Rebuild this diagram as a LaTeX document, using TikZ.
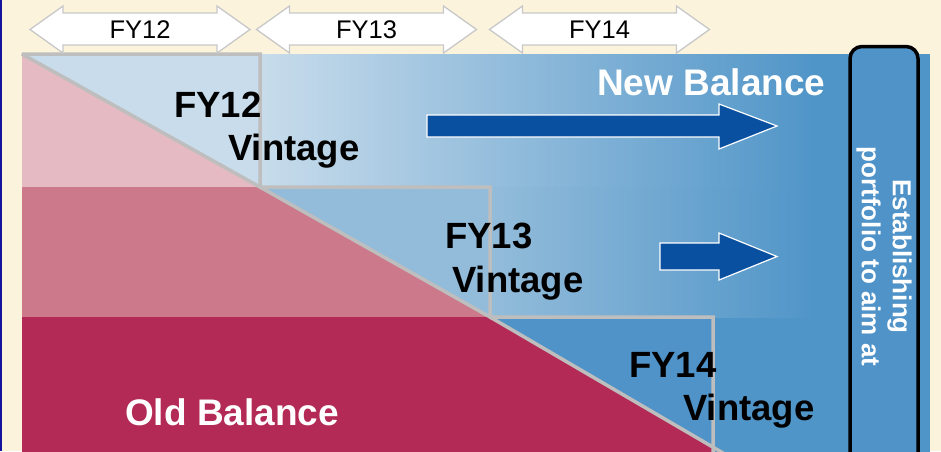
\documentclass[tikz,border=0pt]{standalone}
\usepackage{fontspec}
\setmainfont{Liberation Sans}
\definecolor{creambg}{HTML}{FCF3DC}
\definecolor{edgeblue}{HTML}{1414A0}
\definecolor{newfill}{HTML}{5095C8}
\definecolor{fy12fill}{HTML}{C8DCEB}
\definecolor{fy13fill}{HTML}{93BCDA}
\definecolor{fy14fill}{HTML}{4F93C8}
\definecolor{oldlight}{HTML}{E5BAC2}
\definecolor{oldmid}{HTML}{CC7A8B}
\definecolor{olddark}{HTML}{B32A56}
\definecolor{lineclr}{HTML}{BEBEBE}
\definecolor{headclr}{HTML}{C8C8C8}
\definecolor{pushclr}{HTML}{0A50A0}
\tikzset{
  yearhead/.style = {draw=headclr, fill=white, line width=1.3pt},
  yearlbl/.style  = {inner sep=0pt, font=\fontsize{25.5}{28}\selectfont},
  push/.style     = {draw=white, fill=pushclr, line width=1.2pt},
  vintage/.style  = {anchor=base west, inner sep=0pt, font=\fontsize{36.5}{40}\selectfont\bfseries},
  balance/.style  = {vintage, text=white, font=\fontsize{37}{40}\selectfont\bfseries},
  vbox/.style     = {draw=lineclr, line width=3.5pt, miter limit=3},
  aimbox/.style   = {draw=black, line width=3.5pt, rounded corners=12pt, fill=fy14fill,
                     text=white, align=center, inner sep=0pt,
                     font=\fontsize{26}{31}\selectfont\bfseries},
}

\begin{document}
\begin{tikzpicture}[x=1pt, y=-1pt]

\useasboundingbox (0,0) rectangle (941,451);
\clip (0,0) rectangle (941,451);

%% background
\fill[creambg] (0,0) rectangle (941,451);
\fill[edgeblue] (0,0) rectangle (2,451);

%% new balance area
\fill[newfill] (22,54) rectangle (930,470);
\shade[left color=fy12fill, right color=newfill] (260,54) rectangle (815,187);
\shade[left color=fy13fill, right color=newfill] (490,187) rectangle (815,317);

%% step corners on the diagonal
\coordinate (c0) at (22,54);
\coordinate (c1) at (260,187);
\coordinate (c2) at (490,317);
\coordinate (c3) at (735,460);

%% old balance bands
\fill[oldlight] (c0) -- (c1) -- (22,187) -- cycle;
\fill[oldmid] (22,187) -- (c1) -- (c2) -- (22,317) -- cycle;
\fill[olddark] (22,317) -- (c2) -- (c3) -- (22,470) -- cycle;

%% vintages
\filldraw[vbox, fill=fy12fill] (c0) -- (260,54) -- (c1) -- cycle;
\filldraw[vbox, fill=fy13fill] (c1) -- (490,187) -- (c2) -- cycle;
\filldraw[vbox, fill=fy14fill] (c2) -- (713,317) -- (713,470) -- (c3) -- cycle;

%% fiscal years
\foreach \cx/\yr in {140/12, 366.5/13, 599.5/14} {
  \filldraw[yearhead] (\cx-110,29.5) -- (\cx-77,6) -- (\cx-77,13) -- (\cx+77,13)
    -- (\cx+77,6) -- (\cx+110,29.5) -- (\cx+77,53) -- (\cx+77,45)
    -- (\cx-77,45) -- (\cx-77,53) -- cycle;
  \node[yearlbl] (y\yr) at (\cx,29.5) {FY\yr};
}

%% target box
\node[aimbox, rotate=-90, minimum width=420pt, minimum height=68pt] (aim) at (884,256.5)
  {Establishing\\portfolio to aim at};

%% growth arrows
\filldraw[push] (427,115) -- (719,115) -- (719,104) -- (777,126) -- (719,149)
  -- (719,137) -- (427,137) -- cycle;
\filldraw[push] (660,243) -- (719,243) -- (719,233) -- (777,256.5) -- (719,280)
  -- (719,270) -- (660,270) -- cycle;

%% labels
\node[balance] (newb) at (597,95) {New Balance};
\node[balance] (oldb) at (125,425) {Old Balance};

\node[vintage] (v12) at (174,117) {FY12};
\node[vintage] (v12b) at (228,160) {Vintage};
\node[vintage] (v13) at (445,248) {FY13};
\node[vintage] (v13b) at (452,292) {Vintage};
\node[vintage] (v14) at (629,377) {FY14};
\node[vintage] (v14b) at (683,420) {Vintage};

\end{tikzpicture}
\end{document}
